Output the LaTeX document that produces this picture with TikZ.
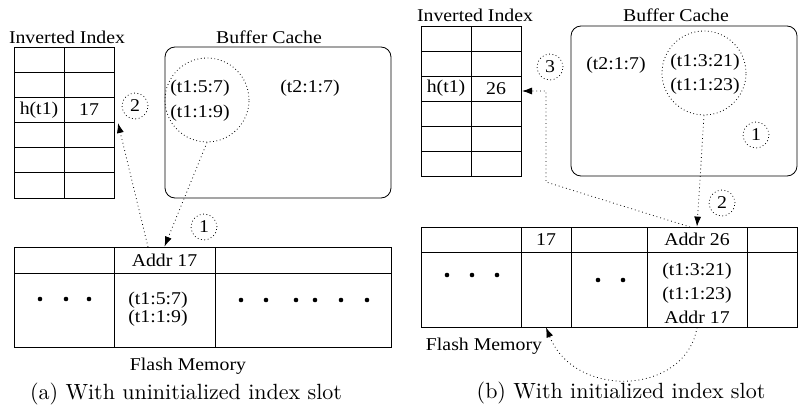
\documentclass[tikz,border=0pt]{standalone}
\usepackage{fontspec}
\newfontfamily\tms{Liberation Serif}[FakeStretch=1.1]
\newfontfamily\capfont{lmroman10-regular}[Extension=.otf]
\usetikzlibrary{arrows.meta}
\begin{document}
\begin{tikzpicture}[x=1pt,y=-1pt,
  lbl/.style={font=\tms\fontsize{18}{20}\selectfont, inner sep=0pt},
  captxt/.style={font=\capfont\fontsize{22}{26}\selectfont, inner sep=0pt},
  cell/.style={draw, line width=0.8pt, inner sep=0pt},
  ring/.style={circle, draw, line width=0.8pt, dash pattern=on 0.8pt off 2.6pt, inner sep=0pt},
  num/.style={ring, minimum size=26pt, font=\tms\fontsize{18}{20}\selectfont},
  conn/.style={line width=0.8pt, dash pattern=on 0.8pt off 3pt, -{Latex[length=10pt,width=7pt]}},
  dotn/.style={circle, fill, inner sep=0pt, minimum size=4.6pt},
  cache/.style={draw, line width=0.8pt, rounded corners=10pt}
]
\useasboundingbox (0,0) rectangle (799,417);

% ================= (a) =================
\node[lbl] (tIL) at (67,37) {Inverted Index};
\foreach \r in {1,...,6}
  \foreach \c/\x in {1/39,2/89}
    \node[cell, minimum width=50pt, minimum height=25.17pt] (iL-\r-\c) at (\x,{47+25.17*(\r-0.5)}) {};
\node[lbl] at (iL-3-1) {h(t1)};
\node[lbl] at (iL-3-2) {17};

\node[lbl] (tBL) at (269,37) {Buffer Cache};
\draw[cache] (165,47) rectangle (391,198);
\node[ring, minimum size=84pt] (cL) at (207,100) {};
\node[lbl] at (200,88) {(t1:5:7)};
\node[lbl] at (200,113) {(t1:1:9)};
\node[lbl] at (310,88) {(t2:1:7)};

\node[num] (nL2) at (135,106) {2};
\node[num] (nL1) at (204,227) {1};

% flash memory (a)
\node[cell, minimum width=100pt, minimum height=26pt] (fLt1) at (64,260) {};
\node[cell, minimum width=101pt, minimum height=26pt] (fLt2) at (164.5,260) {};
\node[cell, minimum width=176pt, minimum height=26pt] (fLt3) at (303,260) {};
\node[cell, minimum width=100pt, minimum height=74pt] (fLb1) at (64,310) {};
\node[cell, minimum width=101pt, minimum height=74pt] (fLb2) at (164.5,310) {};
\node[cell, minimum width=176pt, minimum height=74pt] (fLb3) at (303,310) {};
\node[lbl] at (fLt2) {Addr 17};
\node[lbl] at (158,300) {(t1:5:7)};
\node[lbl] at (158,318) {(t1:1:9)};
\foreach \x in {40,66,89} \node[dotn] at (\x,299) {};
\foreach \x in {241,266,296,315,341,367} \node[dotn] at (\x,300) {};
\node[lbl] (fmL) at (188,366) {Flash Memory};
\node[captxt] (capa) at (186,394) {(a) With uninitialized index slot};

\coordinate (aStart) at (148,247);
\coordinate (aTip) at (118,123);
\draw[conn] (aStart) -- (aTip);
\draw[conn] (cL.south) -- (fLt2.north);

% ================= (b) =================
\node[lbl] (tIR) at (475,15) {Inverted Index};
\foreach \r in {1,...,6}
  \foreach \c/\x in {1/446,2/496}
    \node[cell, minimum width=50pt, minimum height=25pt] (iR-\r-\c) at (\x,{26+25*(\r-0.5)}) {};
\node[lbl] at (iR-3-1) {h(t1)};
\node[lbl] at (iR-3-2) {26};

\node[lbl] (tBR) at (676,15) {Buffer Cache};
\draw[cache] (571,26) rectangle (797,176);
\node[ring, minimum size=84pt] (cR) at (704,73) {};
\node[lbl] at (616,65) {(t2:1:7)};
\node[lbl] at (705,62) {(t1:3:21)};
\node[lbl] at (705,86) {(t1:1:23)};

\node[num] (nR1) at (756,135) {1};
\node[num] (nR3) at (550,67) {3};
\node[num] (nR2) at (722,203) {2};

% flash memory (b)
\foreach \n/\x/\w in {1/471/100,2/546/50,3/609/76,4/697/100,5/772/50}{
  \node[cell, minimum width=\w pt, minimum height=25pt] (fRt\n) at (\x,239.5) {};
  \node[cell, minimum width=\w pt, minimum height=75pt] (fRb\n) at (\x,289.5) {};
}
\node[lbl] at (fRt2) {17};
\node[lbl] at (fRt4) {Addr 26};
\node[lbl] at (697,271) {(t1:3:21)};
\node[lbl] at (697,295) {(t1:1:23)};
\node[lbl] at (697,317) {Addr 17};
\foreach \x in {447,472,497} \node[dotn] at (\x,275) {};
\foreach \x in {598,623} \node[dotn] at (\x,280) {};
\node[lbl] (fmR) at (484,346) {Flash Memory};
\node[captxt] (capb) at (621,393) {(b) With initialized index slot};

\draw[conn] (cR.south) -- (fRt4.north);
\coordinate (dStart) at (690,227);
\coordinate (dBend1) at (546,182);
\coordinate (dBend2) at (546,91);
\coordinate (dTip) at (522,91);
\draw[conn] (dStart) -- (dBend1) -- (dBend2) -- (dTip);
\draw[conn] (fRb4.south) .. controls (686,395) and (575,400) .. (fRb2.south);
\end{tikzpicture}
\end{document}
